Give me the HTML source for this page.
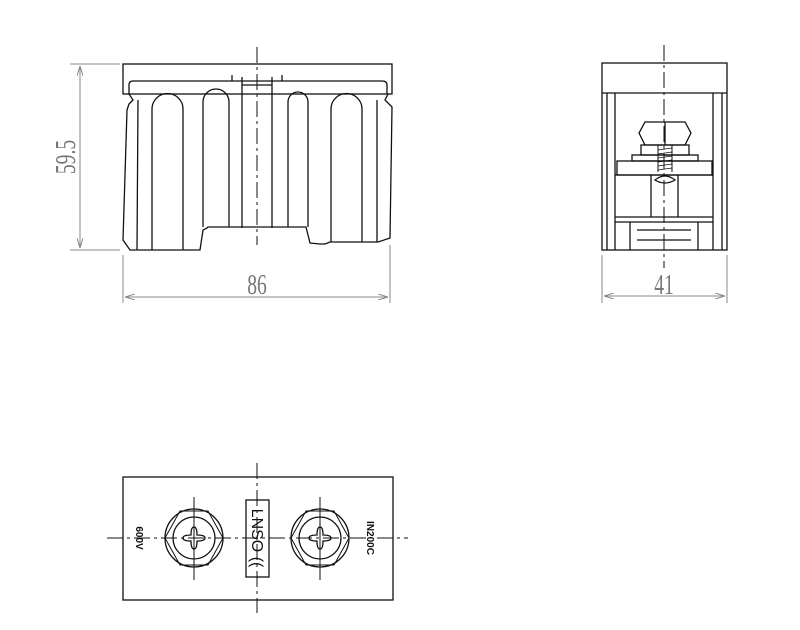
<!DOCTYPE html>
<html><head><meta charset="utf-8"><style>body{margin:0;background:#fff}svg{display:block}</style></head><body>
<svg width="800" height="630" viewBox="0 0 800 630" xmlns="http://www.w3.org/2000/svg" font-family="Liberation Sans, sans-serif">
<defs><marker id="a" markerWidth="10" markerHeight="6" refX="10" refY="3" orient="auto-start-reverse"><path d="M0,0 L10,3 L0,6" fill="none" stroke="#888" stroke-width="1"/></marker></defs>
<g fill="none" stroke="#111" stroke-width="1.3">
<!-- front view -->
<rect x="123" y="64" width="269" height="30"/>
<path d="M129,94 L129,85 Q129,81 133,81 L382,81 Q387,81 387,85 L387,94"/>
<path d="M129,94 L133,100 L129,104 L127,110 L123,240 L130,250 L200,250 L203,230 L207,228 L208,227 L306,227 L310,243 L320,244 L325,244 L330,242 L378,242 L390,238 L392,107 L385,100 L388,94"/>
<path d="M138,100 L137,250 M377,100 L377,242"/>
<path d="M152,250 L152,109 A15.5,15.5 0 0 1 183,109 L183,250"/>
<path d="M203,227 L203,102 A13,13 0 0 1 229,102 L229,227"/>
<path d="M288,227 L288,102 A10,10 0 0 1 308,102 L308,227"/>
<path d="M331,242 L331,109 A15.5,15.5 0 0 1 362,109 L362,242"/>
<path d="M242,77 L242,228 M272,77 L272,228 M242,85 L272,85"/>
<path d="M232,75 L232,81 M282,75 L282,81"/>
<!-- side view -->
<rect x="602" y="63" width="125" height="187"/>
<path d="M602,93 L727,93 M607,93 L607,250 M722,93 L722,250 M615,93 L615,250 M713,93 L713,250"/>
<path d="M645,122 L685,122 L691,133 L685,145 L645,145 L639,133 Z M665,122 L665,145"/>
<rect x="641" y="145" width="48" height="10"/>
<rect x="632" y="155" width="66" height="6"/>
<rect x="617" y="161" width="95" height="14"/>
<path d="M615,175 L713,175 M615,217 L713,217 M651,175 L651,217 M678,175 L678,217 M615,222 L713,222 M630,222 L630,250 M698,222 L698,250 M637,230 L691,230 M637,240 L691,240"/>
<path d="M658,145 L658,172 M672,145 L672,172" stroke-width="1"/>
<path d="M658,150 L672,148 M658,154 L672,152 M658,158 L672,156 M658,162 L672,160 M658,166 L672,164 M658,170 L672,168" stroke-width="0.8"/>
<path d="M655,180 Q665,172 675,180 Q665,186 655,180 Z"/>
<!-- top view -->
<rect x="123" y="477" width="270" height="123"/>
<circle cx="194" cy="538" r="29"/><circle cx="194" cy="538" r="21"/>
<path d="M180,511 L208,511 L223,538 L208,565 L180,565 L165,538 Z" stroke-width="1"/>
<path d="M194,527 Q197,527 197,535 Q205,535 205,538 Q205,541 197,541 Q197,549 194,549 Q191,549 191,541 Q183,541 183,538 Q183,535 191,535 Q191,527 194,527 Z"/>
<circle cx="320" cy="538" r="29"/><circle cx="320" cy="538" r="21"/>
<path d="M306,511 L334,511 L349,538 L334,565 L306,565 L291,538 Z" stroke-width="1"/>
<path d="M320,527 Q323,527 323,535 Q331,535 331,538 Q331,541 323,541 Q323,549 320,549 Q317,549 317,541 Q309,541 309,538 Q309,535 317,535 Q317,527 320,527 Z"/>
<rect x="246" y="500" width="23" height="77"/>
</g>
<!-- centre lines -->
<g stroke="#111" stroke-width="1" fill="none" stroke-dasharray="16,4,3,4">
<path d="M257,47 L257,245"/>
<path d="M664,45 L664,268"/>
<path d="M107,538 L408,538"/>
<path d="M257,463 L257,613"/>
<path d="M194,497 L194,580 M320,497 L320,580" stroke-dasharray="none"/>
</g>
<!-- dimensions -->
<g stroke="#888" stroke-width="1" fill="none">
<path d="M70,64 L120,64 M70,250 L120,250"/>
<path d="M80,66 L80,248" marker-start="url(#a)" marker-end="url(#a)"/>
<path d="M123,255 L123,303 M390,245 L390,303"/>
<path d="M125,297 L388,297" marker-start="url(#a)" marker-end="url(#a)"/>
<path d="M602,255 L602,303 M727,255 L727,303"/>
<path d="M604,296 L725,296" marker-start="url(#a)" marker-end="url(#a)"/>
</g>
<g fill="#777" font-family="Liberation Serif, serif" font-size="28">
<text transform="translate(257,294) scale(0.7,1)" text-anchor="middle">86</text>
<text transform="translate(664,294) scale(0.7,1)" text-anchor="middle">41</text>
<text transform="translate(75,157) rotate(-90) scale(0.7,1)" text-anchor="middle">59.5</text>
</g>
<g font-size="10" font-weight="bold" fill="#111">
<text transform="translate(136,538) rotate(90)" text-anchor="middle">600V</text>
<text transform="translate(367,538) rotate(90)" text-anchor="middle">IN200C</text>
<text transform="translate(252,538) rotate(90)" text-anchor="middle" font-size="16" font-weight="normal">LNSO ((</text>
</g>
</svg>
</body></html>
